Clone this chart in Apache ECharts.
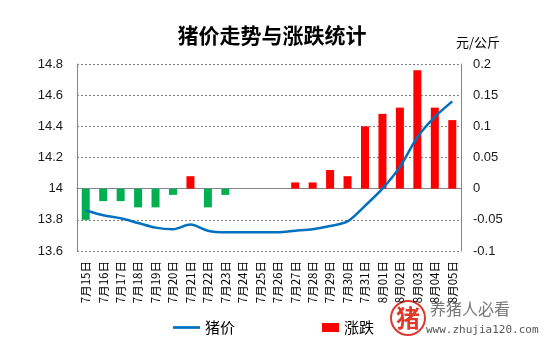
<!DOCTYPE html>
<html><head><meta charset="utf-8">
<script src="https://cdn.jsdelivr.net/npm/echarts@6/dist/echarts.min.js"></script>
<style>html,body{margin:0;padding:0;background:#fff}#c{width:548px;height:348px}</style>
</head><body><div id="c"></div>
<script>
const categories = ['7月15日','7月16日','7月17日','7月18日','7月19日','7月20日','7月21日','7月22日','7月23日','7月24日','7月25日','7月26日','7月27日','7月28日','7月29日','7月30日','7月31日','8月01日','8月02日','8月03日','8月04日','8月05日'];
const price = [13.86,13.83,13.81,13.78,13.75,13.74,13.77,13.73,13.72,13.72,13.72,13.72,13.73,13.74,13.76,13.79,13.89,14.0,14.14,14.33,14.46,14.56];
const change = [-0.05,-0.02,-0.02,-0.03,-0.03,-0.01,0.02,-0.03,-0.01,0,0,0,0.01,0.01,0.03,0.02,0.1,0.12,0.13,0.19,0.13,0.11];
const leftTicks = {min:13.6, max:14.8, interval:0.2};
const rightTicks = {min:-0.1, max:0.2, interval:0.05};

const chart = echarts.init(document.getElementById('c'));
const axisFont = {fontFamily:'Liberation Sans', fontSize:13, color:'#1a1a1a'};
chart.setOption({
  animation:false,
  title:{text:'猪价走势与涨跌统计', left:267, top:20, textAlign:'center',
    textStyle:{fontFamily:'Noto Sans CJK SC', fontWeight:'bold', fontSize:21, color:'#000'}},
  grid:{left:77, right:87, top:64, bottom:97},
  legend:[
    {data:[{name:'猪价', icon:'path://M0,0H30V3H0Z'}], left:168, top:315, itemWidth:27, itemHeight:3, itemGap:4,
      textStyle:{fontFamily:'Noto Sans CJK SC', fontSize:15, color:'#000'}},
    {data:[{name:'涨跌', icon:'rect'}], left:317, top:315, itemWidth:17, itemHeight:9, itemGap:4,
      textStyle:{fontFamily:'Noto Sans CJK SC', fontSize:15, color:'#000'}}
  ],
  xAxis:{type:'category', data:categories, boundaryGap:true,
    axisLine:{lineStyle:{color:'#868686', width:1}}, axisTick:{show:false},
    axisLabel:{interval:0, rotate:90, fontFamily:'Noto Sans CJK SC', fontSize:11.5, color:'#000', margin:10}},
  yAxis:[
    {type:'value', min:leftTicks.min, max:leftTicks.max, interval:leftTicks.interval,
      axisLine:{show:true, lineStyle:{color:'#868686'}}, axisTick:{show:false},
      axisLabel:Object.assign({margin:14}, axisFont),
      splitLine:{lineStyle:{type:[2,2], color:'#7f7f7f'}}},
    {type:'value', min:rightTicks.min, max:rightTicks.max, interval:rightTicks.interval,
      axisLine:{show:true, lineStyle:{color:'#868686'}}, axisTick:{show:false},
      axisLabel:Object.assign({margin:12}, axisFont),
      splitLine:{show:false}}
  ],
  series:[
    {name:'涨跌', type:'bar', yAxisIndex:1, barWidth:8,
      itemStyle:{color:'#FF0000'},
      data:change.map(v=>({value:v, itemStyle:{color: v<0 ? '#00B050' : '#FF0000'}}))},
    {name:'猪价', type:'line', yAxisIndex:0, data:price, symbol:'none', smooth:0.3,
      lineStyle:{color:'#0070C0', width:2.5}, itemStyle:{color:'#0070C0'}, z:5}
  ],
  graphic:[
    {type:'text', left:456, top:36, style:{text:'元/公斤', fontFamily:'Noto Sans CJK SC', fontSize:13, fill:'#000'}},
    {type:'circle', shape:{cx:408, cy:318, r:17}, style:{fill:'rgba(255,255,255,0.6)', stroke:'#e0392b', lineWidth:2}},
    {type:'text', x:408, y:318, style:{text:'猪', fontFamily:'Noto Sans CJK SC', fontSize:24, fontWeight:'bold', fill:'#e0392b', align:'center', verticalAlign:'middle'}},
    {type:'text', x:430, y:301, style:{text:'养猪人必看', fontFamily:'Noto Sans CJK SC', fontSize:16, fill:'#777'}},
    {type:'text', x:426, y:325, style:{text:'www.zhujia120.com', fontFamily:'DejaVu Sans Mono', fontSize:11, fill:'#555'}}
  ]
});
</script></body></html>
